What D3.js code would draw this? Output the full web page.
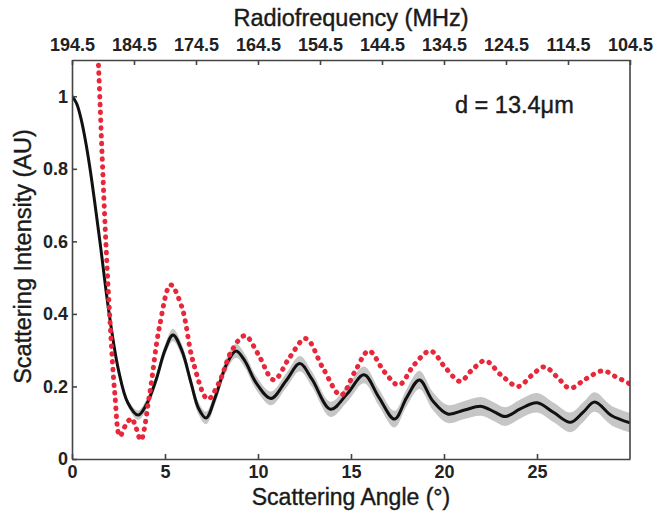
<!DOCTYPE html>
<meta charset="utf-8">
<script src="https://d3js.org/d3.v7.min.js"></script>
<style>
    body { margin: 0; background: #fff; font-family: 'Liberation Sans', Arial, sans-serif; }
    .tick text { font-weight: bold; fill: #222; }
    .title { font-size: 23.5px; fill: #1a1a1a; stroke: #1a1a1a; stroke-width: 0.4px; }
</style>
<div id="chart"></div>
<script>
    // measured curve (black) with its spread (grey band)
    var measAngle = [0, 0.25, 0.5, 0.75, 1.0, 1.5, 2.0, 2.5, 3.0, 3.55, 4.0, 4.5, 5.0, 5.43, 5.9, 6.4, 6.8, 7.21, 7.7, 8.3,
        8.82, 9.3, 9.9, 10.7, 11.5, 12.25, 12.9, 13.9, 14.8, 15.7, 16.5, 17.34, 18.0, 18.68, 19.4, 20.2, 21.1, 22.0,
        22.7, 23.3, 24.1, 25.0, 25.9, 26.8, 27.5, 28.1, 29.0, 30];
    var measValue = [1.0, 0.98, 0.935, 0.87, 0.79, 0.60, 0.40, 0.245, 0.155, 0.121, 0.15, 0.215, 0.30, 0.342, 0.30, 0.21,
        0.14, 0.113, 0.17, 0.26, 0.298, 0.27, 0.21, 0.167, 0.215, 0.263, 0.22, 0.137, 0.18, 0.232, 0.17, 0.11, 0.17,
        0.218, 0.16, 0.124, 0.135, 0.145, 0.13, 0.117, 0.138, 0.155, 0.128, 0.101, 0.13, 0.157, 0.12, 0.1];
    var measSpread = [0.004, 0.004, 0.004, 0.004, 0.004, 0.005, 0.006, 0.008, 0.01, 0.013, 0.014, 0.015, 0.016, 0.017,
        0.017, 0.017, 0.017, 0.017, 0.018, 0.018, 0.019, 0.019, 0.019, 0.019, 0.02, 0.021, 0.021, 0.021, 0.022, 0.023,
        0.023, 0.023, 0.024, 0.025, 0.025, 0.025, 0.025, 0.026, 0.026, 0.026, 0.026, 0.027, 0.027, 0.027, 0.027, 0.027,
        0.027, 0.027];

    // theory curve (red dotted)
    var theoAngle = [1.2, 1.41, 1.6, 1.8, 2.04, 2.3, 2.57, 2.9, 3.2, 3.45, 3.7, 4.18, 4.7, 5.3, 5.9, 6.5, 7.3, 7.9,
        8.6, 9.3, 10.0, 10.85, 11.7, 12.57, 13.5, 14.45, 15.2, 15.96, 16.8, 17.57, 18.4, 19.27, 20.1, 20.87, 21.5,
        22.21, 23.1, 24.0, 24.7, 25.4, 26.1, 26.77, 27.6, 28.55, 29.3, 30];
    var theoValue = [1.3, 1.1, 0.86, 0.62, 0.383, 0.181, 0.063, 0.095, 0.112, 0.085, 0.052, 0.181, 0.364, 0.48, 0.42,
        0.27, 0.165, 0.21, 0.30, 0.34, 0.29, 0.218, 0.28, 0.332, 0.25, 0.176, 0.24, 0.298, 0.24, 0.204, 0.26, 0.298,
        0.25, 0.214, 0.245, 0.271, 0.23, 0.2, 0.23, 0.254, 0.225, 0.195, 0.22, 0.243, 0.225, 0.207];

    var angleTicks = [0, 5, 10, 15, 20, 25];
    var freqTicks = [194.5, 184.5, 174.5, 164.5, 154.5, 144.5, 134.5, 124.5, 114.5, 104.5];
    var intensityTicks = [0, 0.2, 0.4, 0.6, 0.8, 1];

    var margin = { top: 60, right: 28, bottom: 57, left: 72 },
        width = 658 - margin.left - margin.right,
        height = 516 - margin.top - margin.bottom;

    var svg = d3.select("#chart")
        .append("svg")
        .attr("width", 658)
        .attr("height", 516)
        .append("g")
        .attr("transform", "translate(" + margin.left + "," + margin.top + ")");

    var x = d3.scaleLinear().domain([0, 30]).range([0, width]);
    var xTop = d3.scaleLinear().domain([194.5, 104.5]).range([0, width]);
    var y = d3.scaleLinear().domain([0, 1.1]).range([height, 0]);

    svg.append("clipPath").attr("id", "plotclip")
        .append("rect").attr("width", width).attr("height", height);

    var plot = svg.append("g").attr("clip-path", "url(#plotclip)");

    var meas = measAngle.map(function(a, i) {
        return { a: a, v: measValue[i], s: measSpread[i] };
    });
    var theo = theoAngle.map(function(a, i) {
        return { a: a, v: theoValue[i] };
    });

    // grey spread band
    plot.append("path")
        .datum(meas)
        .attr("fill", "#c6c6c6")
        .attr("d", d3.area().curve(d3.curveCatmullRom)
            .x(function(d) { return x(d.a); })
            .y0(function(d) { return y(d.v - d.s); })
            .y1(function(d) { return y(d.v + d.s); }));

    // measured line
    plot.append("path")
        .datum(meas)
        .attr("fill", "none")
        .attr("stroke", "#111")
        .attr("stroke-width", 3)
        .attr("d", d3.line().curve(d3.curveCatmullRom)
            .x(function(d) { return x(d.a); })
            .y(function(d) { return y(d.v); }));

    // theory dotted line
    plot.append("path")
        .datum(theo)
        .attr("fill", "none")
        .attr("stroke", "#e8283a")
        .attr("stroke-width", 5)
        .attr("stroke-linecap", "round")
        .attr("stroke-dasharray", "0.5,7.3")
        .attr("d", d3.line().curve(d3.curveCatmullRom)
            .x(function(d) { return x(d.a); })
            .y(function(d) { return y(d.v); }));

    // axes, ticks pointing inwards
    var axisB = svg.append("g")
        .attr("transform", "translate(0," + height + ")")
        .call(d3.axisBottom(x).tickValues(angleTicks).tickSizeInner(-5).tickSizeOuter(0).tickPadding(6));
    var axisT = svg.append("g")
        .call(d3.axisTop(xTop).tickValues(freqTicks).tickFormat(d3.format(".1f")).tickSizeInner(-5).tickSizeOuter(0).tickPadding(9));
    var axisL = svg.append("g")
        .call(d3.axisLeft(y).tickValues(intensityTicks).tickFormat(d3.format("~g")).tickSizeInner(-5).tickSizeOuter(0).tickPadding(4));

    [axisB, axisT, axisL].forEach(function(g) {
        g.selectAll("text").style("font-size", "18px").style("font-family", "'Liberation Sans', Arial, sans-serif");
        g.selectAll("path, line").attr("stroke", "#444").attr("stroke-width", 1.6);
    });

    // right frame
    svg.append("line")
        .attr("x1", width).attr("x2", width)
        .attr("y1", 0).attr("y2", height)
        .attr("stroke", "#444").attr("stroke-width", 1.6);

    // labels
    svg.append("text")
        .attr("class", "title")
        .attr("x", width / 2).attr("y", -34)
        .style("text-anchor", "middle")
        .text("Radiofrequency (MHz)");

    svg.append("text")
        .attr("class", "title")
        .attr("x", width / 2).attr("y", height + 46)
        .style("text-anchor", "middle")
        .style("font-size", "23px")
        .text("Scattering Angle (°)");

    svg.append("text")
        .attr("class", "title")
        .attr("transform", "rotate(-90)")
        .attr("x", -height / 2 + 3).attr("y", -margin.left + 31)
        .style("text-anchor", "middle")
        .text("Scattering Intensity (AU)");

    svg.append("text")
        .attr("class", "title")
        .attr("x", 383).attr("y", 53)
        .text("d = 13.4μm");
</script>
